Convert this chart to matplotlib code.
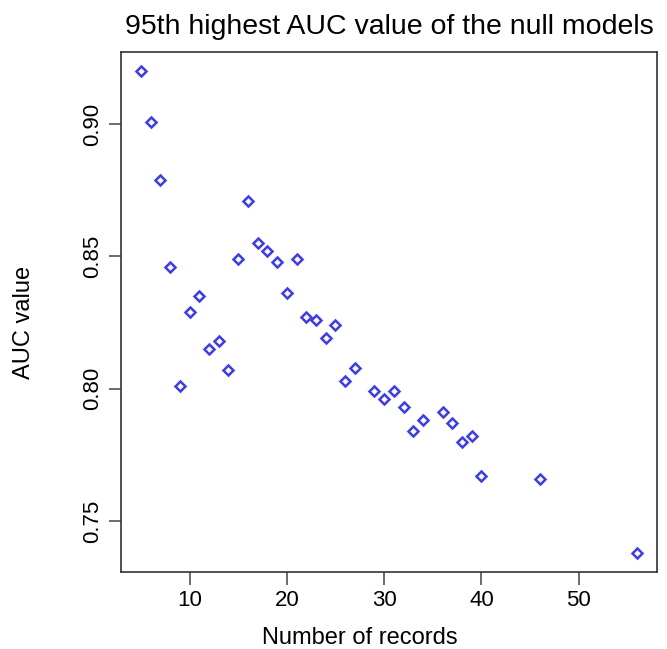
import matplotlib
matplotlib.use("Agg")
import matplotlib.pyplot as plt

# numero de registros e AUC (95o maior valor dos modelos nulos)
n_registros = [5, 6, 7, 8, 9, 10, 11, 12, 13, 14, 15, 16, 17, 18, 19, 20, 21, 22,
               23, 24, 25, 26, 27, 29, 30, 31, 32, 33, 34, 36, 37, 38, 39, 40, 46, 56]
auc = [0.920, 0.901, 0.879, 0.846, 0.801, 0.829, 0.835, 0.815, 0.818, 0.807,
       0.849, 0.871, 0.855, 0.852, 0.848, 0.836, 0.849, 0.827, 0.826, 0.819,
       0.824, 0.803, 0.808, 0.799, 0.796, 0.799, 0.793, 0.784, 0.788, 0.791,
       0.787, 0.780, 0.782, 0.767, 0.766, 0.738]
xticks = [10, 20, 30, 40, 50]
yticks = [0.75, 0.80, 0.85, 0.90]

plt.rcParams["font.family"] = ["Liberation Sans", "DejaVu Sans"]

fig = plt.figure(figsize=(6.67, 6.49), dpi=100)
ax = fig.add_axes([0.1814, 0.1187, 0.8036, 0.8012])

ax.plot(n_registros, auc, linestyle="none", marker="D", markersize=4.8,
        markerfacecolor="none", markeredgecolor="#3c3cf2", markeredgewidth=1.8)

ax.margins(x=0.04, y=0.04)
ax.set_xticks(xticks)
ax.set_yticks(yticks)
ax.set_yticklabels([f"{v:.2f}" for v in yticks], rotation=90, va="center")
ax.tick_params(axis="both", length=9, width=1.1, color="#444444",
               labelsize=16, pad=4)

for s in ax.spines.values():
    s.set_linewidth(1.2)
    s.set_color("#333333")

ax.set_title("95th highest AUC value of the null models", fontsize=20.5, pad=13)
ax.set_xlabel("Number of records", fontsize=17)
ax.xaxis.set_label_coords(0.446, -0.105)
ax.set_ylabel("AUC value", fontsize=17)
ax.yaxis.set_label_coords(-0.16, 0.48)

fig.savefig("out.png", dpi=100)
